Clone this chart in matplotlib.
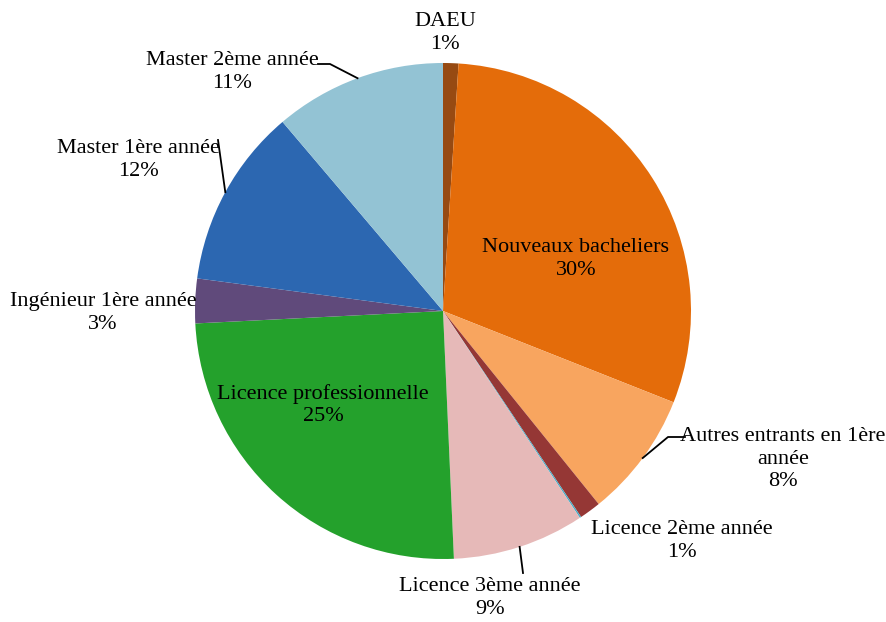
import matplotlib.pyplot as plt
import numpy as np

plt.rcParams['font.family'] = ['Liberation Serif', 'DejaVu Serif']

# data (percent of total)
categories = ['DAEU', 'Nouveaux bacheliers', 'Autres entrants en 1ère\nannée',
              'Licence 2ème année', '', 'Licence 3ème année',
              'Licence professionnelle', 'Ingénieur 1ère année',
              'Master 1ère année', 'Master 2ème année']
values = [1.0, 30.0, 8.2, 1.4, 0.1, 8.6, 24.9, 2.9, 11.7, 11.2]
colors = ['#974A12', '#E46C0A', '#F8A55F', '#953735', '#4BACC6',
          '#E6B9B8', '#24A12C', '#604A7B', '#2C67B1', '#93C3D4']

W, H = 887, 622
CX, CY, R = 443, 311, 248

# label block centres in pixel coords (None = no label)
label_pos = [(445, 33), (576, 259), (783, 459), (682, 541), None,
             (490, 598), (323, 405), (103, 313), (138, 160), (232, 72)]
# leader line anchors near the labels (pixel coords)
leaders = {2: [(685, 437), (668, 437)], 5: [(523, 573)],
           8: [(218, 140)], 9: [(318, 64), (330, 64)]}


def px(x, y):
    return x, H - y


fig = plt.figure(figsize=(W / 100, H / 100), dpi=100)
ax = fig.add_axes([0, 0, 1, 1])
wedges, _ = ax.pie(values, colors=colors, startangle=90, counterclock=False,
                   center=px(CX, CY), radius=R, frame=True,
                   wedgeprops=dict(linewidth=0))

for i, w in enumerate(wedges):
    if label_pos[i] is None:
        continue
    txt = '%s\n%d%%' % (categories[i], round(values[i]))
    ax.text(*px(*label_pos[i]), txt, ha='center', va='center',
            fontsize=16, linespacing=1.25, color='black')
    if i in leaders:
        mid = np.deg2rad((w.theta1 + w.theta2) / 2)
        pts = [px(*p) for p in leaders[i]]
        pts.append((CX + R * np.cos(mid), (H - CY) + R * np.sin(mid)))
        xs, ys = zip(*pts)
        ax.plot(xs, ys, color='black', lw=1.3)

ax.set_xlim(0, W)
ax.set_ylim(0, H)
ax.set_aspect('equal')
ax.axis('off')
fig.savefig('out.png', dpi=100)
